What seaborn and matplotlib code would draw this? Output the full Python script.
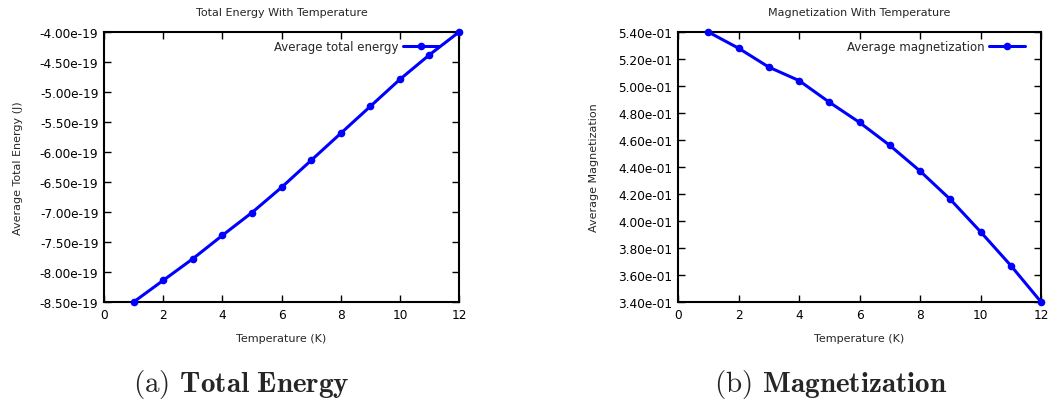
import numpy as np
import pandas as pd
import seaborn as sns
import matplotlib.pyplot as plt
from matplotlib.ticker import FormatStrFormatter, MultipleLocator

# Data
temperature = [1, 2, 3, 4, 5, 6, 7, 8, 9, 10, 11, 12]
energy = [-8.50e-19, -8.14e-19, -7.78e-19, -7.39e-19, -7.01e-19, -6.59e-19,
          -6.14e-19, -5.69e-19, -5.24e-19, -4.79e-19, -4.38e-19, -4.00e-19]
magnetization = [0.540, 0.528, 0.514, 0.504, 0.488, 0.473,
                 0.456, 0.437, 0.416, 0.392, 0.367, 0.340]

df_e = pd.DataFrame({'T': temperature, 'E': energy})
df_m = pd.DataFrame({'T': temperature, 'M': magnetization})

sns.set_style('ticks')
plt.rcParams['font.family'] = ['DejaVu Sans']
plt.rcParams['axes.unicode_minus'] = False
plt.rcParams['mathtext.fontset'] = 'cm'

fig = plt.figure(figsize=(10.55, 4.06), dpi=100)
ax1 = fig.add_axes([0.0986, 0.2537, 0.3365, 0.665])
ax2 = fig.add_axes([0.6427, 0.2537, 0.3441, 0.665])

line_kw = dict(color='#0000ff', linewidth=2.2, marker='o', markersize=5.5,
               markeredgewidth=0, clip_on=False, zorder=5)

sns.lineplot(data=df_e, x='T', y='E', ax=ax1, label='Average total energy', **line_kw)
sns.lineplot(data=df_m, x='T', y='M', ax=ax2, label='Average magnetization', **line_kw)

setup = [
    (ax1, 'Total Energy With Temperature', 'Average Total Energy (J)',
     (-8.5e-19, -4.0e-19), 0.5e-19, 12, 0.966),
    (ax2, 'Magnetization With Temperature', 'Average Magnetization',
     (0.34, 0.54), 0.02, 14, 0.978),
]
for ax, title, ylabel, ylim, step, pad, legx in setup:
    ax.set_xlim(0, 12)
    ax.set_ylim(*ylim)
    ax.xaxis.set_major_locator(MultipleLocator(2))
    ax.yaxis.set_major_locator(MultipleLocator(step))
    ax.yaxis.set_major_formatter(FormatStrFormatter('%.2e'))
    ax.set_title(title, fontsize=8, pad=12)
    ax.set_xlabel('Temperature (K)', fontsize=8, labelpad=9)
    ax.set_ylabel(ylabel, fontsize=8, labelpad=pad)
    ax.tick_params(direction='in', length=5, width=1, top=True, right=True,
                   labelsize=8.7, pad=4, colors='black')
    for s in ax.spines.values():
        s.set_linewidth(1.5)
        s.set_color('black')
    ax.legend(loc='upper right', bbox_to_anchor=(legx, 1.0), frameon=False,
              markerfirst=False, fontsize=8.5, handlelength=3.0,
              borderaxespad=0.3, handletextpad=0.4)

fig.text(0.229, 0.053, r'(a) $\mathbf{Total\ Energy}$', family='cmr10',
         fontsize=21, ha='center', va='center')
fig.text(0.787, 0.053, r'(b) $\mathbf{Magnetization}$', family='cmr10',
         fontsize=21, ha='center', va='center')

fig.savefig('out.png', dpi=100)
